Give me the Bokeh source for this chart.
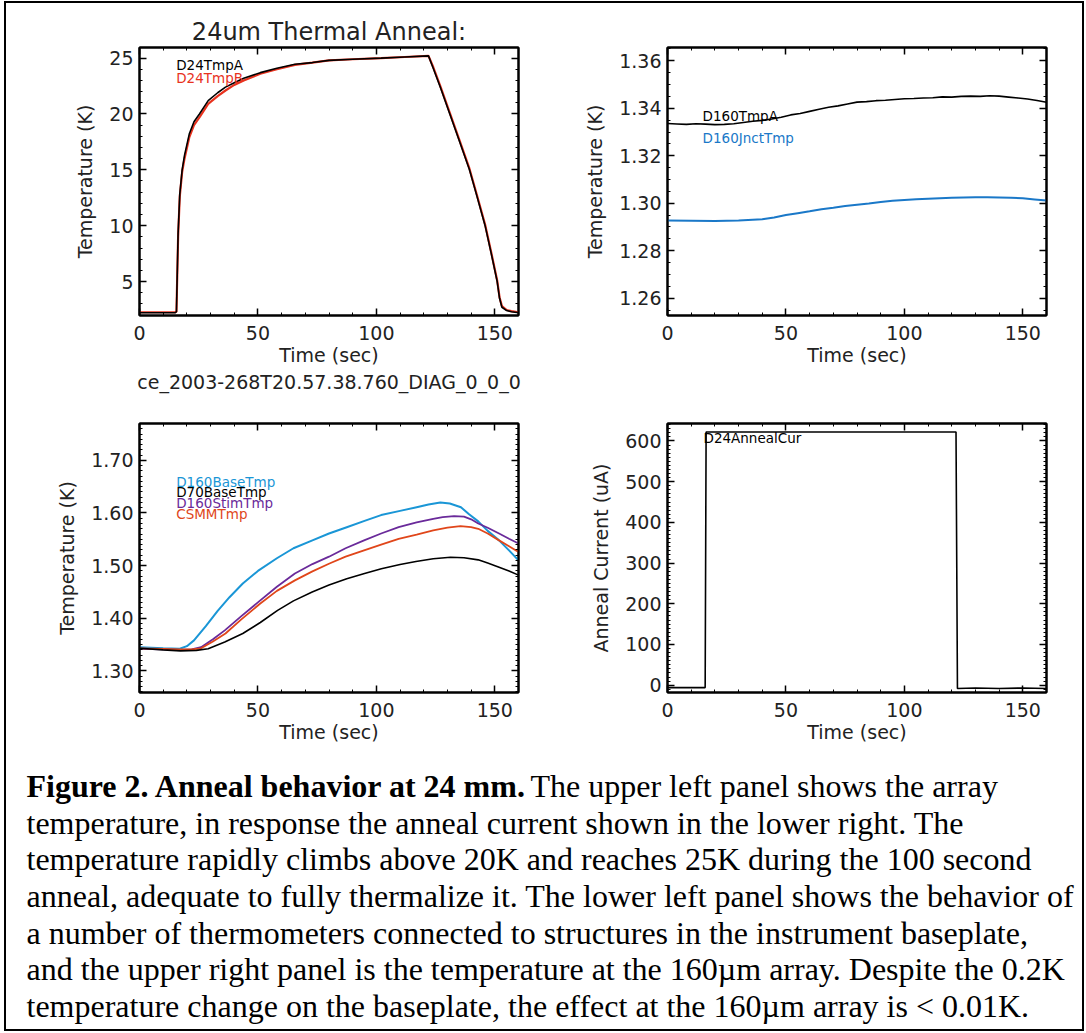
from bokeh.plotting import figure
from bokeh.models import (Label, Title, LinearAxis, SingleIntervalTicker,
                          PrintfTickFormatter, CustomJSTickFormatter, Range1d)
from bokeh.layouts import column, row
from bokeh.embed import file_html
from bokeh.resources import INLINE

# ---------------- data ----------------
# upper left: 24um array thermometers
t_d24a = [0, 5, 10, 15, 15.6, 16.3, 17.0, 18.0, 19.0, 21.0, 23.0, 25.3, 29.0, 33.0,
          36.3, 40.0, 44.0, 51.0, 58.0, 65.6, 73.0, 80.0, 90.0, 102.0, 112.0, 122.0,
          124.0, 127.0, 131.0, 135.0, 139.3, 142.5, 145.9, 148.5, 151.0, 152.0, 153.0,
          155.0, 157.0, 160.0]
d24_tmpa = [2.2, 2.2, 2.2, 2.2, 2.3, 9.3, 12.8, 15.0, 16.3, 18.2, 19.3, 20.0, 21.2, 21.9,
            22.4, 22.8, 23.2, 23.7, 24.1, 24.45, 24.6, 24.8, 24.9, 25.0, 25.1, 25.2,
            24.1, 22.4, 20.0, 17.6, 15.0, 12.6, 10.0, 7.5, 5.0, 3.5, 2.7,
            2.4, 2.3, 2.2]
t_d24b = [0, 5, 10, 15, 15.6, 16.3, 17.0, 18.0, 19.0, 21.0, 23.0, 25.3, 29.0, 33.0,
          36.3, 40.0, 44.0, 51.0, 58.0, 65.6, 73.0, 80.0, 90.0, 102.0, 112.0, 122.0,
          124.0, 127.0, 131.0, 135.0, 139.3, 142.5, 145.9, 148.5, 151.0, 152.0, 153.0,
          155.0, 157.0, 160.0]
d24_tmpb = [2.25, 2.25, 2.25, 2.25, 2.3, 9.0, 12.6, 14.8, 16.0, 17.9, 19.0, 19.7, 20.9, 21.6,
            22.1, 22.6, 23.0, 23.6, 24.0, 24.4, 24.6, 24.8, 24.9, 25.0, 25.1, 25.2,
            24.2, 22.5, 20.1, 17.7, 15.1, 12.7, 10.1, 7.6, 5.1, 3.6, 2.8,
            2.45, 2.35, 2.25]

# upper right: 160um array thermometers
t_d160a = [0, 4, 8, 12, 16, 20, 24, 28, 32, 36, 40, 44, 48, 52, 56, 60, 64, 68, 72, 76,
           80, 84, 88, 92, 96, 100, 104, 108, 112, 116, 120, 124, 128, 132, 136, 140,
           144, 148, 152, 156, 160]
d160_tmpa = [1.3336, 1.3334, 1.3332, 1.3335, 1.3333, 1.3331, 1.3332, 1.3335, 1.3340,
             1.3345, 1.3349, 1.3355, 1.3362, 1.3372, 1.3378, 1.3387, 1.3396, 1.3404,
             1.3410, 1.3418, 1.3426, 1.3428, 1.3432, 1.3434, 1.3437, 1.3440, 1.3441,
             1.3443, 1.3444, 1.3448, 1.3447, 1.3450, 1.3451, 1.3450, 1.3453, 1.3451,
             1.3447, 1.3443, 1.3439, 1.3433, 1.3425]
t_d160j = [0, 10, 20, 30, 40, 45, 50, 55, 60, 65, 70, 75, 80, 85, 90, 95, 100, 105, 110,
           115, 120, 125, 130, 135, 140, 145, 150, 155, 160]
d160_jnct = [1.2927, 1.2926, 1.2925, 1.2927, 1.2932, 1.2940, 1.2950, 1.2958, 1.2966,
             1.2975, 1.2981, 1.2988, 1.2994, 1.2999, 1.3005, 1.3010, 1.3014, 1.3017,
             1.3019, 1.3021, 1.3023, 1.3024, 1.3025, 1.3025, 1.3024, 1.3023, 1.3021,
             1.3016, 1.3011]

# lower left: baseplate thermometers
t_base160 = [0, 10, 17, 20, 23, 28, 33, 38, 43.6, 50, 58, 65, 73, 80, 87.5, 95, 102, 110,
             117, 122, 127, 131, 135.7, 139, 143, 147, 151.8, 156, 160]
d160_base = [1.345, 1.343, 1.342, 1.347, 1.358, 1.385, 1.414, 1.440, 1.466, 1.490, 1.514,
             1.533, 1.548, 1.561, 1.573, 1.585, 1.596, 1.604, 1.611, 1.616, 1.620, 1.618,
             1.611, 1.598, 1.584, 1.566, 1.548, 1.529, 1.510]
t_stim160 = [0, 10, 17, 22, 26, 31, 36, 43, 51, 58, 65.6, 73, 80, 87, 94.8, 102, 109.4,
             117, 124, 128, 132.8, 137, 140, 143, 147, 151.8, 156, 160]
d160_stim = [1.342, 1.341, 1.340, 1.341, 1.345, 1.360, 1.377, 1.404, 1.434, 1.460, 1.485,
             1.503, 1.517, 1.533, 1.548, 1.561, 1.573, 1.582, 1.589, 1.592, 1.594, 1.593,
             1.588, 1.580, 1.572, 1.561, 1.551, 1.542]
t_csmm = [0, 10, 17, 22, 26, 31, 36.3, 43, 51, 58, 65.6, 73, 80.2, 87, 94.8, 102, 109.4,
          117, 124, 130, 135.5, 140, 143, 147, 151.8, 156, 160]
csmm_tmp = [1.343, 1.342, 1.341, 1.341, 1.343, 1.356, 1.371, 1.398, 1.428, 1.452, 1.472,
            1.489, 1.504, 1.517, 1.529, 1.540, 1.551, 1.559, 1.567, 1.572, 1.575, 1.573,
            1.570, 1.561, 1.548, 1.537, 1.526]
t_base70 = [0, 10, 17.3, 24, 29, 36, 43.6, 51, 58.3, 65, 72.9, 80, 87.5, 95, 102.1, 110,
            116.7, 124, 131.3, 137, 143, 147, 151.8, 156, 160]
d70_base = [1.343, 1.340, 1.338, 1.339, 1.342, 1.355, 1.371, 1.392, 1.415, 1.433, 1.450,
            1.463, 1.475, 1.485, 1.494, 1.502, 1.508, 1.513, 1.516, 1.515, 1.511, 1.505,
            1.497, 1.490, 1.482]

# lower right: anneal current
t_cur = [0, 15.9, 16.3, 121.8, 122.4, 130, 140, 150, 160]
anneal_cur = [-6, -6, 622, 622, -8, -7, -8, -7, -8]

title_text = "24um Thermal Anneal:"
file_tag = "ce_2003-268T20.57.38.760_DIAG_0_0_0"
x_label = "Time (sec)"
temp_label = "Temperature (K)"
cur_label = "Anneal Current (uA)"

caption_bold = "Figure 2. Anneal behavior at 24 mm."
caption_lines = [
    "The upper left panel shows the array",
    "temperature, in response the anneal current shown in the lower right. The",
    "temperature rapidly climbs above 20K and reaches 25K during the 100 second",
    "anneal, adequate to fully thermalize it. The lower left panel shows the behavior of",
    "a number of thermometers connected to structures in the instrument baseplate,",
    "and the upper right panel is the temperature at the 160\u00b5m array. Despite the 0.2K",
    "temperature change on the baseplate, the effect at the 160\u00b5m array is < 0.01K.",
]

# ---------------- styling ----------------
FONT = "DejaVu Sans"
SERIF = "Liberation Serif"
RED = "#e8321e"
BLUE_J = "#1a78c8"
BLUE_B = "#1a96d6"
PURPLE = "#6a2a9a"
ORANGE = "#e0461a"
INK = "#222222"


def panel(width, height, bl, br, bt, bb, yr, y_int, y_minor, y_fmt, y_label):
    p = figure(width=width, height=height, title=None,
               x_range=Range1d(0, 160), y_range=Range1d(*yr),
               output_backend="svg", toolbar_location=None,
               min_border_left=bl, min_border_right=br,
               min_border_top=bt, min_border_bottom=bb,
               background_fill_color="white", border_fill_color="white")
    p.grid.visible = False
    p.outline_line_color = "black"
    p.outline_line_width = 2
    bottom = p.below[0]
    left = p.left[0]
    bottom.ticker = SingleIntervalTicker(interval=50, num_minor_ticks=5)
    left.ticker = SingleIntervalTicker(interval=y_int, num_minor_ticks=y_minor)
    if y_fmt:
        left.formatter = PrintfTickFormatter(format=y_fmt)
    blank = CustomJSTickFormatter(code="return ''")
    top = LinearAxis(ticker=SingleIntervalTicker(interval=50, num_minor_ticks=5),
                     formatter=blank)
    right = LinearAxis(ticker=SingleIntervalTicker(interval=y_int, num_minor_ticks=y_minor),
                       formatter=blank)
    p.add_layout(top, "above")
    p.add_layout(right, "right")
    for ax in (bottom, left, top, right):
        ax.axis_line_width = 2
        ax.axis_line_color = "black"
        ax.major_tick_in = 7
        ax.major_tick_out = 0
        ax.minor_tick_in = 3
        ax.minor_tick_out = 0
        ax.major_tick_line_width = 1.5
        ax.minor_tick_line_width = 1
        ax.major_label_text_font = FONT
        ax.major_label_text_font_size = "19px"
        ax.major_label_text_color = INK
        ax.axis_label_text_font = FONT
        ax.axis_label_text_font_size = "19px"
        ax.axis_label_text_font_style = "normal"
        ax.axis_label_text_color = INK
    for ax in (top, right):
        ax.major_label_standoff = 0
    bottom.axis_label = x_label
    bottom.major_label_standoff = 10
    bottom.axis_label_standoff = 1
    left.axis_label = y_label
    left.major_label_standoff = 6
    left.axis_label_standoff = 10
    return p


def tag(p, x, y, text, color):
    p.add_layout(Label(x=x, y=y, text=text, text_color=color, text_font=FONT,
                       text_font_size="13.5px", text_baseline="middle",
                       text_align="left"))


# upper left
p1 = panel(532, 407, 133, 20, 44, 95, (1.96, 25.95), 5, 5, None, temp_label)
p1.line(t_d24b, d24_tmpb, line_color=RED, line_width=2.2)
p1.line(t_d24a, d24_tmpa, line_color="black", line_width=1.6)
tag(p1, 15.5, 24.4, "D24TmpA", "black")
tag(p1, 15.5, 23.26, "D24TmpB", RED)
ttl = Title(text=title_text, align="center", text_font=FONT, text_font_size="24px",
            text_font_style="normal", text_color=INK, standoff=4, offset=-6)
p1.add_layout(ttl, "above")
sub = Title(text=file_tag, align="center", text_font=FONT, text_font_size="19px",
            text_font_style="normal", text_color=INK, standoff=0)
p1.add_layout(sub, "below")

# upper right
p2 = panel(544, 407, 129, 36, 44, 95, (1.2527, 1.3656), 0.02, 4, "%.2f", temp_label)
p2.line(t_d160a, d160_tmpa, line_color="black", line_width=1.6)
p2.line(t_d160j, d160_jnct, line_color=BLUE_J, line_width=2)
tag(p2, 14.8, 1.3369, "D160TmpA", "black")
tag(p2, 14.8, 1.3273, "D160JnctTmp", BLUE_J)

# lower left
p3 = panel(532, 340, 133, 20, 13, 58, (1.259, 1.770), 0.1, 10, "%.2f", temp_label)
p3.line(t_base160, d160_base, line_color=BLUE_B, line_width=2)
p3.line(t_stim160, d160_stim, line_color=PURPLE, line_width=1.8)
p3.line(t_csmm, csmm_tmp, line_color=ORANGE, line_width=1.8)
p3.line(t_base70, d70_base, line_color="black", line_width=1.6)
tag(p3, 15.5, 1.659, "D160BaseTmp", BLUE_B)
tag(p3, 15.5, 1.639, "D70BaseTmp", "black")
tag(p3, 15.5, 1.619, "D160StimTmp", PURPLE)
tag(p3, 15.5, 1.599, "CSMMTmp", ORANGE)

# lower right
p4 = panel(544, 340, 129, 36, 13, 58, (-18, 643), 100, 10, None, cur_label)
p4.line(t_cur, anneal_cur, line_color="black", line_width=1.6)
tag(p4, 15.2, 607, "D24AnnealCur", "black")

# caption
CAP_W, CAP_H = 1076, 279
cap = figure(width=CAP_W, height=CAP_H, x_range=Range1d(0, CAP_W), y_range=Range1d(CAP_H, 0),
             output_backend="svg", toolbar_location=None, min_border=0,
             x_axis_type=None, y_axis_type=None, outline_line_color=None,
             background_fill_color="white", border_fill_color="white")
cap.grid.visible = False
baselines = [35, 72, 108, 145, 182, 218, 255]
cap.add_layout(Label(x=20, y=baselines[0], text=caption_bold, text_font=SERIF,
                     text_font_size="32px", text_font_style="bold",
                     text_baseline="alphabetic", text_color="black"))
for i, line in enumerate(caption_lines):
    cap.add_layout(Label(x=(524 if i == 0 else 20), y=baselines[i], text=line,
                         text_font=SERIF, text_font_size="32px",
                         text_baseline="alphabetic", text_color="black"))

layout = column(row(p1, p2), row(p3, p4), cap,
                styles={"border": "2px solid black", "margin": "1px 0px 0px 4px"})

open("out.html", "w").write(file_html(layout, INLINE))
